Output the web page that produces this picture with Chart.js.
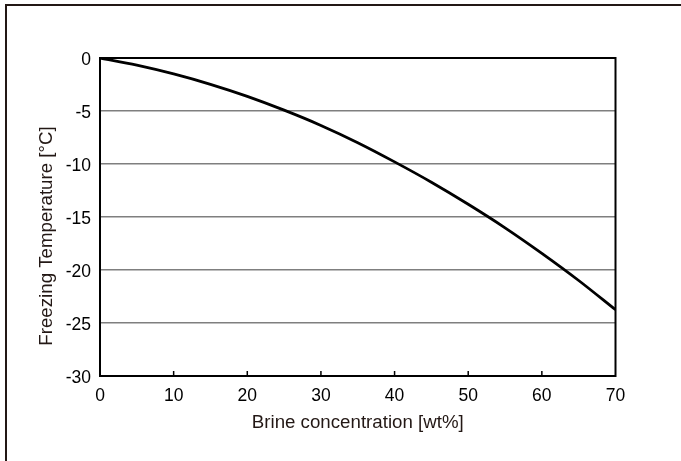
<!DOCTYPE html>
<html>
<head>
<meta charset="utf-8">
<script src="https://cdn.jsdelivr.net/npm/chart.js@4/dist/chart.umd.min.js"></script>
<style>
    html, body { margin: 0; padding: 0; background: #fff; }
    canvas { display: block; }
</style>
</head>
<body>
<canvas id="freeze-chart" width="681" height="461" style="width:681px;height:461px"></canvas>
<script>
// --- Data ---
const concentration = [0, 5, 10, 15, 20, 25, 30, 35, 40, 45, 50, 55, 60, 65, 70];
const freezingTemp = [0, -0.67, -1.5, -2.48, -3.62, -4.92, -6.36, -7.99, -9.8, -11.72, -13.8, -16.02, -18.43, -20.99, -23.75];
const xTicks = [0, 10, 20, 30, 40, 50, 60, 70];
const yTicks = [0, -5, -10, -15, -20, -25, -30];
const yTitle = 'Freezing Temperature [°C]';

const fontFamily = '"Liberation Sans", Arial, sans-serif';

// --- Frame around the picture, plot box, inward x ticks, y title ---
const framePlugin = {
    id: 'frame',
    beforeDraw: (chart) => {
        const ctx = chart.ctx;
        ctx.save();
        ctx.fillStyle = '#fff';
        ctx.fillRect(0, 0, chart.width, chart.height);
        ctx.strokeStyle = '#231815';
        ctx.lineWidth = 2;
        ctx.beginPath();
        ctx.moveTo(6, chart.height);
        ctx.lineTo(6, 5);
        ctx.lineTo(chart.width, 5);
        ctx.stroke();
        ctx.restore();
    },
    afterDatasetsDraw: (chart) => {
        const ctx = chart.ctx;
        const area = chart.chartArea;
        const xScale = chart.scales.x;
        ctx.save();
        ctx.strokeStyle = '#000';
        ctx.lineWidth = 1.5;
        ctx.beginPath();
        xTicks.slice(1, -1).forEach(v => {
            const px = xScale.getPixelForValue(v);
            ctx.moveTo(px, area.bottom);
            ctx.lineTo(px, area.bottom - 5);
        });
        ctx.stroke();
        ctx.lineWidth = 2;
        ctx.strokeRect(area.left, area.top, area.right - area.left, area.bottom - area.top);

        // y title sits a little below the middle of the plot in the original
        ctx.translate(47, 236);
        ctx.rotate(-Math.PI / 2);
        ctx.fillStyle = '#231815';
        ctx.font = `18.7px ${fontFamily}`;
        ctx.textAlign = 'center';
        ctx.textBaseline = 'middle';
        ctx.fillText(yTitle, 0, 0);
        ctx.restore();
    }
};

const ctx = document.getElementById('freeze-chart').getContext('2d');
new Chart(ctx, {
    type: 'line',
    data: {
        datasets: [{
            data: concentration.map((x, i) => ({ x: x, y: freezingTemp[i] })),
            borderColor: '#000',
            borderWidth: 2.8,
            pointRadius: 0,
            cubicInterpolationMode: 'monotone',
            fill: false
        }]
    },
    options: {
        responsive: false,
        animation: false,
        devicePixelRatio: 1,
        layout: { padding: { top: 58, right: 65.5, left: 0, bottom: 0 } },
        plugins: { legend: { display: false }, tooltip: { enabled: false } },
        scales: {
            x: {
                type: 'linear',
                min: 0,
                max: 70,
                afterBuildTicks: (scale) => { scale.ticks = xTicks.map(v => ({ value: v })); },
                afterFit: (scale) => { scale.height = 85; },
                grid: { display: false },
                border: { display: false },
                ticks: {
                    color: '#000',
                    padding: 2,
                    maxRotation: 0,
                    font: { family: fontFamily, size: 17.5 }
                },
                title: {
                    display: true,
                    text: 'Brine concentration [wt%]',
                    color: '#231815',
                    padding: { top: 0, bottom: 27 },
                    font: { family: fontFamily, size: 18.7 }
                }
            },
            y: {
                type: 'linear',
                min: -30,
                max: 0,
                afterBuildTicks: (scale) => { scale.ticks = yTicks.map(v => ({ value: v })); },
                afterFit: (scale) => { scale.width = 100; },
                grid: {
                    drawTicks: false,
                    color: '#7f7f7f',
                    lineWidth: 1.5
                },
                border: { display: false },
                ticks: {
                    color: '#000',
                    padding: 9,
                    labelOffset: 2,
                    font: { family: fontFamily, size: 17.5 }
                }
            }
        }
    },
    plugins: [framePlugin]
});
</script>
</body>
</html>
